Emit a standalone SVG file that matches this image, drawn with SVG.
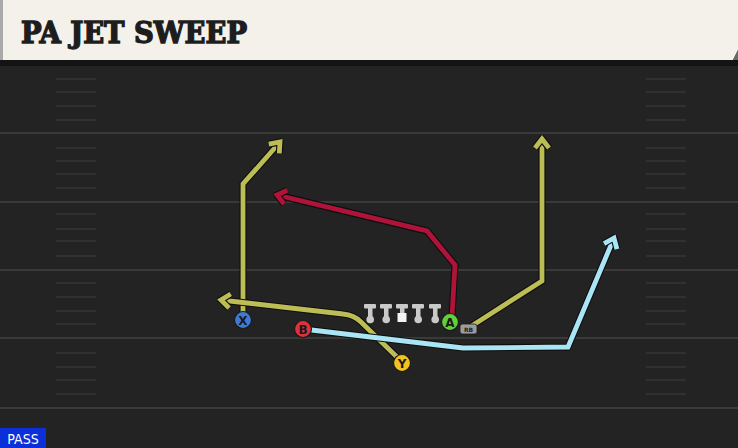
<svg xmlns="http://www.w3.org/2000/svg" width="738" height="448" viewBox="0 0 738 448">
<defs>
<style>
.yl{stroke:#3a3a3a;stroke-width:2}
.hash{stroke:#363636;stroke-width:1.6}
.ol{fill:none;stroke:#0e0e0e;stroke-width:7;stroke-linejoin:miter;stroke-linecap:butt}
.rt{fill:none;stroke-width:4.8;stroke-linejoin:miter;stroke-linecap:butt}
.olv{stroke:#bdbd55}
.red{stroke:#b0133a}
.blu{stroke:#a9e5f4}
.pl{stroke:#1a1a1a;stroke-width:1.2}
.lbl{font-family:"DejaVu Sans","Liberation Sans",sans-serif;font-weight:bold;font-size:12px;fill:#1a1a1a;text-anchor:middle}
.ln{fill:#c9c9c9}
</style>
<marker id="aO" markerUnits="userSpaceOnUse" viewBox="-14 -10 18 20" markerWidth="18" markerHeight="20" refX="0" refY="0" orient="auto">
<path d="M-9,-7 L0,0 L-9,7" fill="none" stroke="#0e0e0e" stroke-width="7"/>
<path d="M-9,-7 L0,0 L-9,7" fill="none" stroke="#bdbd55" stroke-width="4.8"/>
</marker>
<marker id="aR" markerUnits="userSpaceOnUse" viewBox="-14 -10 18 20" markerWidth="18" markerHeight="20" refX="0" refY="0" orient="auto">
<path d="M-9,-7 L0,0 L-9,7" fill="none" stroke="#0e0e0e" stroke-width="7"/>
<path d="M-9,-7 L0,0 L-9,7" fill="none" stroke="#b0133a" stroke-width="4.8"/>
</marker>
<marker id="aB" markerUnits="userSpaceOnUse" viewBox="-14 -10 18 20" markerWidth="18" markerHeight="20" refX="0" refY="0" orient="auto">
<path d="M-9,-7 L0,0 L-9,7" fill="none" stroke="#0e0e0e" stroke-width="7"/>
<path d="M-9,-7 L0,0 L-9,7" fill="none" stroke="#a9e5f4" stroke-width="4.8"/>
</marker>
</defs>

<rect x="0" y="0" width="738" height="448" fill="#232323"/>

<g id="field">
<line class="yl" x1="0" y1="133" x2="738" y2="133"/>
<line class="yl" x1="0" y1="202" x2="738" y2="202"/>
<line class="yl" x1="0" y1="270" x2="738" y2="270"/>
<line class="yl" x1="0" y1="338" x2="738" y2="338"/>
<line class="yl" x1="0" y1="408" x2="738" y2="408"/>
<g id="hashL">
<line class="hash" x1="56" y1="79" x2="96" y2="79"/><line class="hash" x1="56" y1="92" x2="96" y2="92"/><line class="hash" x1="56" y1="106" x2="96" y2="106"/><line class="hash" x1="56" y1="120" x2="96" y2="120"/>
<line class="hash" x1="56" y1="148" x2="96" y2="148"/><line class="hash" x1="56" y1="161" x2="96" y2="161"/><line class="hash" x1="56" y1="174" x2="96" y2="174"/><line class="hash" x1="56" y1="188" x2="96" y2="188"/>
<line class="hash" x1="56" y1="214" x2="96" y2="214"/><line class="hash" x1="56" y1="229" x2="96" y2="229"/><line class="hash" x1="56" y1="241" x2="96" y2="241"/><line class="hash" x1="56" y1="256" x2="96" y2="256"/>
<line class="hash" x1="56" y1="283" x2="96" y2="283"/><line class="hash" x1="56" y1="297" x2="96" y2="297"/><line class="hash" x1="56" y1="311" x2="96" y2="311"/><line class="hash" x1="56" y1="324" x2="96" y2="324"/>
<line class="hash" x1="56" y1="353" x2="96" y2="353"/><line class="hash" x1="56" y1="367" x2="96" y2="367"/><line class="hash" x1="56" y1="380" x2="96" y2="380"/><line class="hash" x1="56" y1="394" x2="96" y2="394"/>
</g>
<use href="#hashL" x="590"/>
</g>

<g id="title">
<rect x="0" y="58" width="738" height="8" fill="#141414"/>
<rect x="0" y="0" width="4" height="60" fill="#a9a9a9"/>
<path d="M3,0 H738 V50 L733,60 H3 Z" fill="#f4f1ea"/>
<path d="M738,50 L733,60 H738 Z" fill="#6a6a6a"/>
<text x="21" y="43" font-family="'DejaVu Serif Condensed','DejaVu Serif',serif" font-weight="bold" font-size="29" fill="#1d1d1d" stroke="#1d1d1d" stroke-width="1.3" textLength="226" lengthAdjust="spacingAndGlyphs">PA JET SWEEP</text>
</g>

<g id="connectors">
<path class="ol" d="M243,320 V184 L280,142"/>
<path class="rt olv" d="M243,320 V184 L280,142" marker-end="url(#aO)"/>
<path class="ol" d="M400,360 L361,322 Q354,315 343,314 L221,300"/>
<path class="rt olv" d="M400,360 L361,322 Q354,315 343,314 L221,300" marker-end="url(#aO)"/>
<path class="ol" d="M452,316 L455,265 L427,231 L277,195"/>
<path class="rt red" d="M452,316 L455,265 L427,231 L277,195" marker-end="url(#aR)"/>
<path class="ol" d="M470,327 L542,281 V139"/>
<path class="rt olv" d="M470,327 L542,281 V139" marker-end="url(#aO)"/>
<path class="ol" d="M303,329 L463,348 L568,347 L614,238"/>
<path class="rt blu" d="M303,329 L463,348 L568,347 L614,238" marker-end="url(#aB)"/>
</g>

<g id="line">
<g id="lt"><rect class="ln" x="364" y="304" width="12" height="4.5" rx="1"/><rect class="ln" x="368" y="306" width="4.5" height="13"/><circle class="ln" cx="370.2" cy="319.5" r="3.8"/></g>
<use href="#lt" x="16"/>
<g><rect class="ln" x="396" y="304" width="12" height="4.5" rx="1"/><rect class="ln" x="400" y="306" width="4.5" height="8"/><rect x="397.5" y="313" width="9" height="9" fill="#f4f4f4"/></g>
<use href="#lt" x="48"/>
<use href="#lt" x="65"/>
</g>

<g id="X"><circle class="pl" cx="243" cy="320" r="8.5" fill="#3d79d8"/><text class="lbl" x="243" y="324.5">X</text></g>
<g id="B"><circle class="pl" cx="303" cy="329" r="8.5" fill="#e0303b"/><text class="lbl" x="303" y="333.5">B</text></g>
<g id="Y"><circle class="pl" cx="402" cy="363" r="8.5" fill="#f2c21f"/><text class="lbl" x="402" y="367.5">Y</text></g>
<g id="A"><circle class="pl" cx="450" cy="322" r="8.5" fill="#5fd23a"/><text class="lbl" x="450" y="326.5">A</text></g>
<g id="RB"><rect x="460" y="324" width="17" height="10" rx="2.5" fill="#9b9b9b" stroke="#1a1a1a" stroke-width="0.8"/><text x="468.5" y="331.5" font-family="'DejaVu Sans',sans-serif" font-size="6" font-weight="bold" fill="#222" text-anchor="middle">RB</text></g>

<g id="pass"><rect x="0" y="428" width="46" height="20" fill="#0b2fd8"/><text x="23" y="443.5" font-family="'DejaVu Sans Condensed','DejaVu Sans',sans-serif" font-size="14" fill="#ffffff" text-anchor="middle">PASS</text></g>
</svg>
